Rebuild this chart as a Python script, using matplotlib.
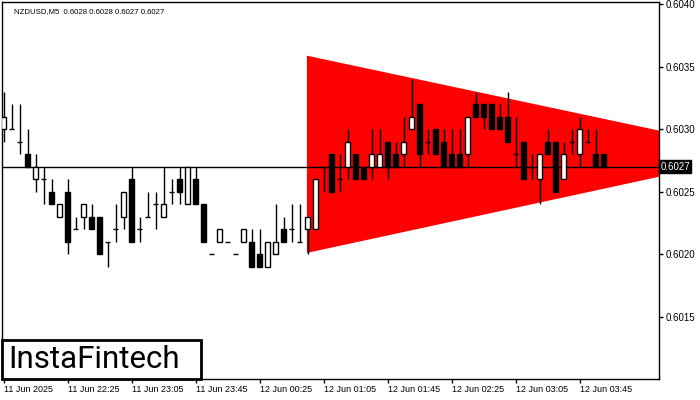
import matplotlib
matplotlib.use("Agg")
import matplotlib.pyplot as plt
from matplotlib.patches import Rectangle

# NZDUSD M5, candles from 11 Jun 21:45 onwards
opens = [0.6030, 0.6030, 0.6029, 0.6028, 0.6026, 0.6026, 0.6025, 0.6023, 0.6025, 0.6022,
         0.6023, 0.6023, 0.6023, 0.6021, 0.6022, 0.6023, 0.6026, 0.6022, 0.6023, 0.6024,
         0.6023, 0.6025, 0.6026, 0.6024, 0.6026, 0.6024, 0.6020, 0.6021, 0.6021, 0.6020,
         0.6021, 0.6021, 0.6020, 0.6019, 0.6020, 0.6022, 0.6022, 0.6021, 0.6022, 0.6022,
         0.6027, 0.6028, 0.6026, 0.6027, 0.6028, 0.6027, 0.6027, 0.6027, 0.6029, 0.6028,
         0.6028, 0.6030, 0.6032, 0.6029, 0.6030, 0.6029, 0.6028, 0.6028, 0.6028, 0.6032,
         0.6032, 0.6032, 0.6031, 0.6031, 0.6028, 0.6029, 0.6027, 0.6026, 0.6029, 0.6029,
         0.6026, 0.6029, 0.6028, 0.6029, 0.6028, 0.6028]
highs = [0.6033, 0.6032, 0.6032, 0.6030, 0.6028, 0.6027, 0.6026, 0.6024, 0.6026, 0.6023,
         0.6024, 0.6024, 0.6023, 0.6021, 0.6024, 0.6025, 0.6027, 0.6023, 0.6025, 0.6025,
         0.6027, 0.6026, 0.6027, 0.6027, 0.6027, 0.6024, 0.6020, 0.6022, 0.6021, 0.6020,
         0.6022, 0.6022, 0.6022, 0.6021, 0.6024, 0.6023, 0.6024, 0.6024, 0.6023, 0.6026,
         0.6027, 0.6028, 0.6028, 0.6030, 0.6028, 0.6027, 0.6030, 0.6030, 0.6029, 0.6029,
         0.6031, 0.6034, 0.6032, 0.6030, 0.6030, 0.6030, 0.6030, 0.6030, 0.6031, 0.6033,
         0.6032, 0.6032, 0.6032, 0.6033, 0.6031, 0.6029, 0.6028, 0.6028, 0.6030, 0.6029,
         0.6029, 0.6030, 0.6031, 0.6030, 0.6030, 0.6028]
lows = [0.6029, 0.6030, 0.6028, 0.6027, 0.6025, 0.6024, 0.6024, 0.6023, 0.6020, 0.6022,
        0.6022, 0.6022, 0.6020, 0.6019, 0.6021, 0.6022, 0.6021, 0.6021, 0.6023, 0.6022,
        0.6023, 0.6024, 0.6024, 0.6024, 0.6024, 0.6021, 0.6020, 0.6021, 0.6021, 0.6020,
        0.6021, 0.6019, 0.6019, 0.6019, 0.6020, 0.6021, 0.6021, 0.6021, 0.6020, 0.6022,
        0.6025, 0.6025, 0.6025, 0.6026, 0.6026, 0.6026, 0.6026, 0.6027, 0.6026, 0.6027,
        0.6027, 0.6030, 0.6027, 0.6028, 0.6028, 0.6027, 0.6027, 0.6027, 0.6027, 0.6031,
        0.6030, 0.6030, 0.6030, 0.6029, 0.6027, 0.6026, 0.6026, 0.6024, 0.6028, 0.6025,
        0.6026, 0.6028, 0.6027, 0.6029, 0.6027, 0.6027]
closes = [0.6031, 0.6030, 0.6029, 0.6027, 0.6027, 0.6026, 0.6024, 0.6024, 0.6021, 0.6022,
          0.6024, 0.6022, 0.6020, 0.6021, 0.6022, 0.6025, 0.6021, 0.6022, 0.6023, 0.6024,
          0.6024, 0.6025, 0.6025, 0.6027, 0.6024, 0.6021, 0.6020, 0.6022, 0.6021, 0.6020,
          0.6022, 0.6019, 0.6019, 0.6021, 0.6021, 0.6021, 0.6022, 0.6021, 0.6023, 0.6026,
          0.6027, 0.6025, 0.6026, 0.6029, 0.6026, 0.6026, 0.6028, 0.6028, 0.6027, 0.6027,
          0.6029, 0.6031, 0.6028, 0.6029, 0.6028, 0.6027, 0.6027, 0.6027, 0.6031, 0.6031,
          0.6031, 0.6030, 0.6030, 0.6029, 0.6028, 0.6026, 0.6027, 0.6028, 0.6028, 0.6025,
          0.6028, 0.6029, 0.6030, 0.6029, 0.6027, 0.6027]

time_labels = ["11 Jun 2025", "11 Jun 22:25", "11 Jun 23:05", "11 Jun 23:45", "12 Jun 00:25",
               "12 Jun 01:05", "12 Jun 01:45", "12 Jun 02:25", "12 Jun 03:05", "12 Jun 03:45"]
price_ticks = [0.6015, 0.6020, 0.6025, 0.6030, 0.6035, 0.6040]
bid = 0.6027

# triangle pattern (bar index, upper / lower border)
tri_x = [37.9, 81.9]
tri_upper = [0.60359, 0.60299]
tri_lower = [0.60201, 0.60262]

fig = plt.figure(figsize=(7, 4), dpi=100)
ax = fig.add_axes([2 / 700, 21 / 400, 657 / 700, 377 / 400])

ax.fill([tri_x[0], tri_x[1], tri_x[1], tri_x[0]],
        [tri_upper[0], tri_upper[1], tri_lower[1], tri_lower[0]],
        color="#ff0000", lw=0, zorder=1)

ax.axhline(bid, color="black", lw=1, zorder=2)

xs = range(len(opens))
ax.vlines(xs, lows, highs, color="black", lw=1, zorder=3)
for i in xs:
    o, c = opens[i], closes[i]
    if o == c:
        ax.hlines(o, i - 0.32, i + 0.32, color="black", lw=1, zorder=4)
    else:
        ax.bar(i, abs(c - o), bottom=min(o, c), width=0.62,
               color="white" if c > o else "black", edgecolor="black", lw=1, zorder=4)

ax.set_xlim(-0.2, 81.9)
ax.set_ylim(0.6010, 0.60402)

ax.yaxis.tick_right()
ax.set_yticks(price_ticks)
ax.set_yticklabels([f"{p:.4f}" for p in price_ticks], fontfamily="Liberation Sans", fontsize=7)
ax.set_xticks([8 * k for k in range(len(time_labels))])
ax.set_xticklabels(time_labels, ha="left", fontfamily="Liberation Sans", fontsize=6.5)
ax.tick_params(axis="both", direction="out", length=3, width=1, pad=2, colors="black")
ax.tick_params(axis="x", pad=1)
for s in ax.spines.values():
    s.set_linewidth(1)
    s.set_color("black")

ax.text(12 / 657, 0.985, "NZDUSD,M5  0.6028 0.6028 0.6027 0.6027", transform=ax.transAxes,
        ha="left", va="top", fontsize=5.6, fontfamily="Liberation Sans")

# current price label on the price scale
ax.text(1.002, bid, f"{bid:.4f}", transform=ax.get_yaxis_transform(), ha="left", va="center",
        fontsize=7, fontfamily="Liberation Sans", color="white",
        bbox=dict(boxstyle="square,pad=0.15", fc="black", ec="black"))

fig.add_artist(Rectangle((2 / 700, 21 / 400), 199 / 700, 39 / 400, transform=fig.transFigure,
                         fc="white", ec="black", lw=2, zorder=5))
fig.text(8 / 700, 40 / 400, "InstaFintech", ha="left", va="center", fontsize=22.5,
         fontfamily="Roboto", color="black", zorder=6)

fig.savefig("out.png", dpi=100)
